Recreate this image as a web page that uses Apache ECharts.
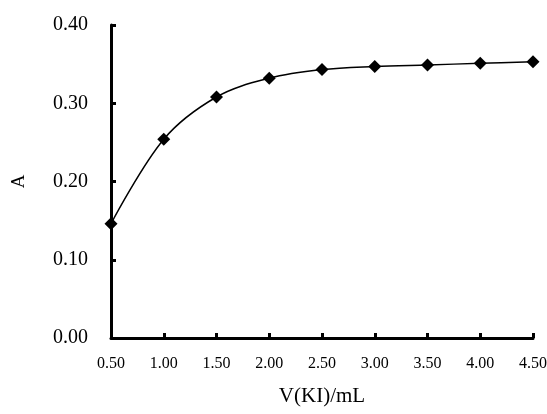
<!DOCTYPE html>
<html>
<head>
    <title>A vs V(KI)</title>
    <meta charset="utf-8">
    <script src="https://cdn.jsdelivr.net/npm/echarts@6/dist/echarts.min.js"></script>
    <style>
        body { margin: 0; background: #fff; }
    </style>
</head>
<body>
    <div id="main" style="width: 547px;height:414px;"></div>
    <script type="text/javascript">
        // data
        var volumes = [0.5, 1.0, 1.5, 2.0, 2.5, 3.0, 3.5, 4.0, 4.5];
        var absorbance = [0.146, 0.254, 0.308, 0.332, 0.343, 0.347, 0.349, 0.351, 0.353];

        var myChart = echarts.init(document.getElementById('main'));

        var points = volumes.map(function(v, i) {
            return [v, absorbance[i]];
        });

        var font = 'Liberation Serif, Times New Roman, serif';

        var option = {
            animation: false,
            grid: {
                left: 111,
                right: 14,
                top: 25,
                bottom: 76,
                outerBoundsMode: 'none'
            },
            xAxis: {
                type: 'value',
                min: 0.5,
                max: 4.5,
                interval: 0.5,
                name: 'V(KI)/mL',
                nameLocation: 'middle',
                nameGap: 48,
                nameTextStyle: { color: '#000', fontFamily: font, fontSize: 21 },
                axisLine: { lineStyle: { color: '#000', width: 3 } },
                axisTick: { inside: true, length: 5, lineStyle: { color: '#000', width: 3 } },
                axisLabel: {
                    color: '#000', fontFamily: font, fontSize: 16, margin: 18,
                    formatter: function(v) { return v.toFixed(2); }
                },
                splitLine: { show: false }
            },
            yAxis: {
                type: 'value',
                min: 0,
                max: 0.4,
                interval: 0.1,
                name: 'A',
                nameLocation: 'middle',
                nameGap: 82,
                nameRotate: 90,
                nameTextStyle: { color: '#000', fontFamily: font, fontSize: 19 },
                axisLine: { lineStyle: { color: '#000', width: 3 } },
                axisTick: { inside: true, length: 5, lineStyle: { color: '#000', width: 3 } },
                axisLabel: {
                    color: '#000', fontFamily: font, fontSize: 20, margin: 23,
                    formatter: function(v) { return v.toFixed(2); }
                },
                splitLine: { show: false }
            },
            series: [{
                type: 'line',
                data: points,
                smooth: 0.35,
                symbol: 'diamond',
                symbolSize: 13,
                itemStyle: { color: '#000' },
                lineStyle: { color: '#000', width: 1.5 }
            }]
        };

        myChart.setOption(option);
    </script>
</body>
</html>
